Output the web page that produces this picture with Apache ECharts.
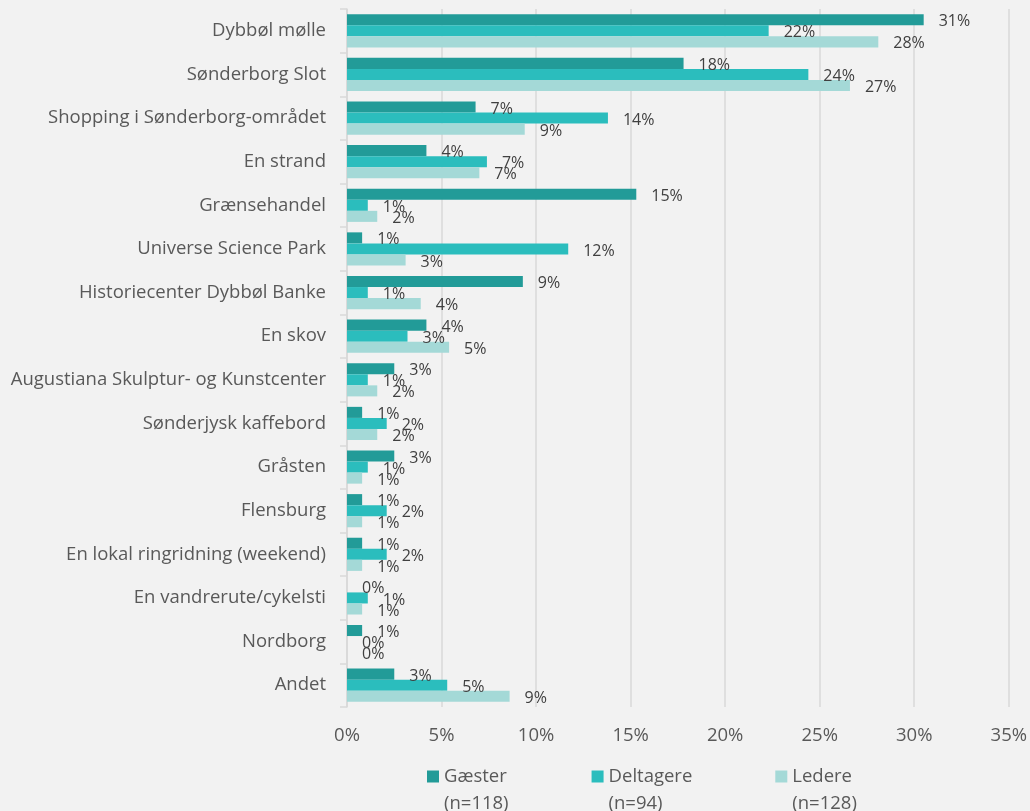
<!DOCTYPE html>
<html>
<head>
<meta charset="utf-8">
<script src="https://cdn.jsdelivr.net/npm/echarts@6/dist/echarts.min.js"></script>
<style>
  html, body { margin: 0; padding: 0; background: #f2f2f2; }
  #chart { width: 1030px; height: 811px; }
</style>
</head>
<body>
<div id="chart"></div>
<script>
var categories = ['Dybbøl mølle', 'Sønderborg Slot', 'Shopping i Sønderborg-området', 'En strand',
    'Grænsehandel', 'Universe Science Park', 'Historiecenter Dybbøl Banke', 'En skov',
    'Augustiana Skulptur- og Kunstcenter', 'Sønderjysk kaffebord', 'Gråsten', 'Flensburg',
    'En lokal ringridning (weekend)', 'En vandrerute/cykelsti', 'Nordborg', 'Andet'];

var seriesNames = ['Gæster\n(n=118)', 'Deltagere\n(n=94)', 'Ledere\n(n=128)'];

// percent values
var gaester   = [30.5, 17.8, 6.8, 4.2, 15.3, 0.8, 9.3, 4.2, 2.5, 0.8, 2.5, 0.8, 0.8, 0, 0.8, 2.5];
var deltagere = [22.3, 24.4, 13.8, 7.4, 1.1, 11.7, 1.1, 3.2, 1.1, 2.1, 1.1, 2.1, 2.1, 1.1, 0, 5.3];
var ledere    = [28.1, 26.6, 9.4, 7.0, 1.6, 3.1, 3.9, 5.4, 1.6, 1.6, 0.8, 0.8, 0.8, 0.8, 0, 8.6];

var colors = ['#229b98', '#2bbdbd', '#a4d9d7'];
var fontName = 'Open Sans';

// square sits at top of a tall box so it lines up with the first legend line
var legendIcon = 'path://M0,0h0.01v0.01h-0.01z M0,7.5h12v12h-12z M0,53.99h0.01v0.01h-0.01z';

function makeSeries(name, data, idx) {
    return {
        name: name,
        type: 'bar',
        data: data,
        barGap: 0,
        barCategoryGap: '24%',
        itemStyle: { color: colors[idx] },
        label: {
            show: true,
            position: 'right',
            distance: 15,
            offset: [0, 2],
            color: '#404040',
            fontFamily: fontName,
            fontSize: 16,
            formatter: function (p) { return Math.round(p.value) + '%'; }
        }
    };
}

var chart = echarts.init(document.getElementById('chart'));
var option = {
    backgroundColor: '#f2f2f2',
    animation: false,
    color: colors,
    grid: { left: 347, right: 19, top: 9, bottom: 104 },
    legend: {
        left: 427,
        top: 763,
        padding: 0,
        itemWidth: 12,
        itemHeight: 54,
        itemGap: 83,
        icon: legendIcon,
        textStyle: { fontFamily: fontName, fontSize: 18.5, color: '#595959', lineHeight: 27 },
        data: seriesNames
    },
    xAxis: {
        type: 'value',
        min: 0,
        max: 35,
        interval: 5,
        axisLine: { show: false },
        axisTick: { show: false },
        splitLine: { lineStyle: { color: '#d9d9d9', width: 1.5 } },
        axisLabel: {
            formatter: '{value}%',
            color: '#595959',
            fontFamily: fontName,
            fontSize: 18.5,
            margin: 19
        }
    },
    yAxis: {
        type: 'category',
        inverse: true,
        data: categories,
        axisLine: { lineStyle: { color: '#d9d9d9', width: 1.5 } },
        axisTick: { show: true, length: 7, lineStyle: { color: '#d9d9d9', width: 1.5 } },
        axisLabel: {
            color: '#595959',
            fontFamily: fontName,
            fontSize: 18.5,
            margin: 21
        }
    },
    series: [
        makeSeries(seriesNames[0], gaester, 0),
        makeSeries(seriesNames[1], deltagere, 1),
        makeSeries(seriesNames[2], ledere, 2)
    ]
};
chart.setOption(option);
</script>
</body>
</html>
